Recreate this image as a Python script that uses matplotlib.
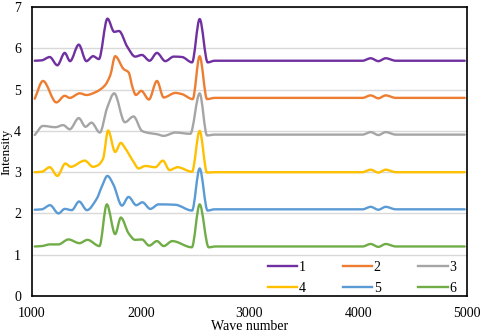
import numpy as np
import matplotlib
matplotlib.use("Agg")
import matplotlib.pyplot as plt
from matplotlib.path import Path
from matplotlib.patches import PathPatch
from matplotlib.lines import Line2D

plt.rcParams['font.family'] = ['Liberation Serif', 'DejaVu Serif']

# readings (wave number, intensity)
x1 = [1025, 1090, 1163, 1233, 1301, 1350, 1430, 1500, 1562, 1615, 1694, 1756, 1800, 1876, 1949, 2011,
      2081, 2149, 2226, 2303, 2380, 2472, 2542, 2616, 2680, 3500, 4040, 4115, 4186, 4253, 4346, 4980]
y1 = [5.70, 5.71, 5.79, 5.59, 5.89, 5.69, 6.09, 5.69, 5.81, 5.74, 6.72, 6.40, 6.42, 6.04, 5.80, 5.84,
      5.70, 5.89, 5.69, 5.80, 5.79, 5.66, 6.71, 5.66, 5.70, 5.70, 5.70, 5.76, 5.69, 5.76, 5.70, 5.70]

x2 = [1025, 1101, 1224, 1301, 1347, 1439, 1501, 1593, 1670, 1720, 1765, 1842, 1888, 1925, 1955, 2005,
      2075, 2149, 2211, 2318, 2380, 2478, 2542, 2610, 2680, 3500, 4040, 4115, 4186, 4253, 4346, 4980]
y2 = [4.78, 5.21, 4.69, 4.85, 4.80, 4.91, 4.87, 4.95, 5.10, 5.35, 5.81, 5.50, 5.42, 5.05, 4.87, 4.97,
      4.76, 5.21, 4.81, 4.92, 4.89, 4.77, 5.81, 4.77, 4.80, 4.80, 4.80, 4.86, 4.79, 4.86, 4.80, 4.80]

x3 = [1025, 1101, 1216, 1286, 1347, 1430, 1492, 1547, 1624, 1690, 1756, 1854, 1934, 2011, 2072, 2149,
      2211, 2318, 2456, 2542, 2610, 2680, 3500, 4040, 4115, 4186, 4253, 4346, 4980]
y3 = [3.90, 4.12, 4.09, 4.14, 4.04, 4.31, 4.10, 4.20, 3.96, 4.55, 4.91, 4.21, 4.35, 4.00, 3.95, 3.92,
      3.88, 3.96, 3.93, 4.91, 3.89, 3.91, 3.91, 3.91, 3.97, 3.90, 3.97, 3.91, 3.91]

x4 = [1025, 1090, 1163, 1233, 1307, 1356, 1485, 1562, 1608, 1654, 1700, 1765, 1817, 1857, 1934, 1980,
      2041, 2134, 2204, 2265, 2339, 2472, 2542, 2610, 2680, 3500, 4040, 4115, 4186, 4253, 4346, 4980]
y4 = [3.00, 3.01, 3.12, 2.91, 3.21, 3.13, 3.28, 3.13, 3.17, 3.33, 4.01, 3.49, 3.71, 3.58, 3.25, 3.09,
      3.15, 3.12, 3.28, 3.05, 3.12, 3.01, 4.00, 2.99, 3.00, 3.00, 3.00, 3.06, 2.99, 3.06, 3.00, 3.00]

x5 = [1025, 1090, 1166, 1243, 1301, 1366, 1433, 1505, 1596, 1642, 1694, 1750, 1827, 1888, 1959, 2015,
      2088, 2164, 2318, 2472, 2542, 2615, 2680, 3500, 4040, 4115, 4186, 4253, 4346, 4980]
y5 = [2.09, 2.10, 2.20, 2.00, 2.11, 2.08, 2.29, 2.08, 2.36, 2.65, 2.91, 2.69, 2.19, 2.40, 2.20, 2.27,
      2.11, 2.22, 2.21, 2.07, 3.09, 2.07, 2.10, 2.10, 2.10, 2.16, 2.09, 2.16, 2.10, 2.10]

x6 = [1025, 1090, 1166, 1243, 1335, 1436, 1510, 1620, 1688, 1765, 1817, 1888, 1949, 2011, 2078, 2149,
      2211, 2290, 2470, 2542, 2625, 2690, 3500, 4040, 4115, 4186, 4253, 4346, 4980]
y6 = [1.20, 1.21, 1.25, 1.25, 1.37, 1.28, 1.36, 1.21, 2.22, 1.50, 1.90, 1.52, 1.36, 1.37, 1.22, 1.33,
      1.21, 1.33, 1.18, 2.22, 1.18, 1.20, 1.20, 1.20, 1.26, 1.19, 1.26, 1.20, 1.20]

labels = ['1', '2', '3', '4', '5', '6']
colors = ['#7030A0', '#ED7D31', '#A5A5A5', '#FFC000', '#5B9BD5', '#70AD47']
series = [(x1, y1), (x2, y2), (x3, y3), (x4, y4), (x5, y5), (x6, y6)]


def slopes(x, y):
    # monotone (Fritsch-Carlson) tangents, no overshoot between readings
    d = np.diff(y) / np.diff(x)
    m = np.zeros(len(x))
    m[0], m[-1] = d[0], d[-1]
    for i in range(1, len(x) - 1):
        if d[i - 1] * d[i] > 0:
            m[i] = 2 / (1 / d[i - 1] + 1 / d[i])
    return m


def smoothPath(x, y):
    # smoothed line like a spreadsheet "smooth line" chart (cubic bezier through the points)
    x = np.asarray(x, float)
    y = np.asarray(y, float)
    m = slopes(x, y)
    verts = [(x[0], y[0])]
    codes = [Path.MOVETO]
    for i in range(len(x) - 1):
        h = x[i + 1] - x[i]
        verts += [(x[i] + h / 3, y[i] + m[i] * h / 3),
                  (x[i + 1] - h / 3, y[i + 1] - m[i + 1] * h / 3),
                  (x[i + 1], y[i + 1])]
        codes += [Path.CURVE4] * 3
    return Path(verts, codes)


fig = plt.figure(figsize=(4.8, 3.34), dpi=100)
ax = fig.add_axes([0.0667, 0.1138, 0.906, 0.865])

handles = []
for (x, y), c, lab in zip(series, colors, labels):
    ax.add_patch(PathPatch(smoothPath(x, y), fill=False, edgecolor=c, lw=1.7,
                           capstyle='round', joinstyle='round', zorder=3))
    handles.append(Line2D([], [], color=c, lw=1.7, label=lab))

ax.set_xlim(1000, 5000)
ax.set_ylim(0, 7)
ax.set_xticks([1000, 2000, 3000, 4000, 5000])
ax.set_yticks(range(0, 8))
ax.tick_params(axis='x', length=0, labelsize=10, pad=8)
ax.tick_params(axis='y', length=0, labelsize=10, pad=8)
ax.yaxis.grid(True, color='#d9d9d9', lw=1)
ax.set_axisbelow(True)
for s in ax.spines.values():
    s.set_color('black')
    s.set_linewidth(1.2)

ax.set_xlabel('Wave number', fontsize=10, labelpad=0)
ax.set_ylabel('Intensity', fontsize=9.5)
ax.yaxis.set_label_coords(-0.044, 0.5)

# legend fills by column, so reorder to read 1 2 3 / 4 5 6 across rows
order = [0, 3, 1, 4, 2, 5]
ax.legend(handles=[handles[i] for i in order], ncol=3, loc='lower right',
          bbox_to_anchor=(1.0, -0.036), frameon=False,
          fontsize=10, handlelength=2.1, handletextpad=0.1, columnspacing=2.7,
          borderpad=0.3, labelspacing=0.6)

fig.savefig('out.png', dpi=100)
